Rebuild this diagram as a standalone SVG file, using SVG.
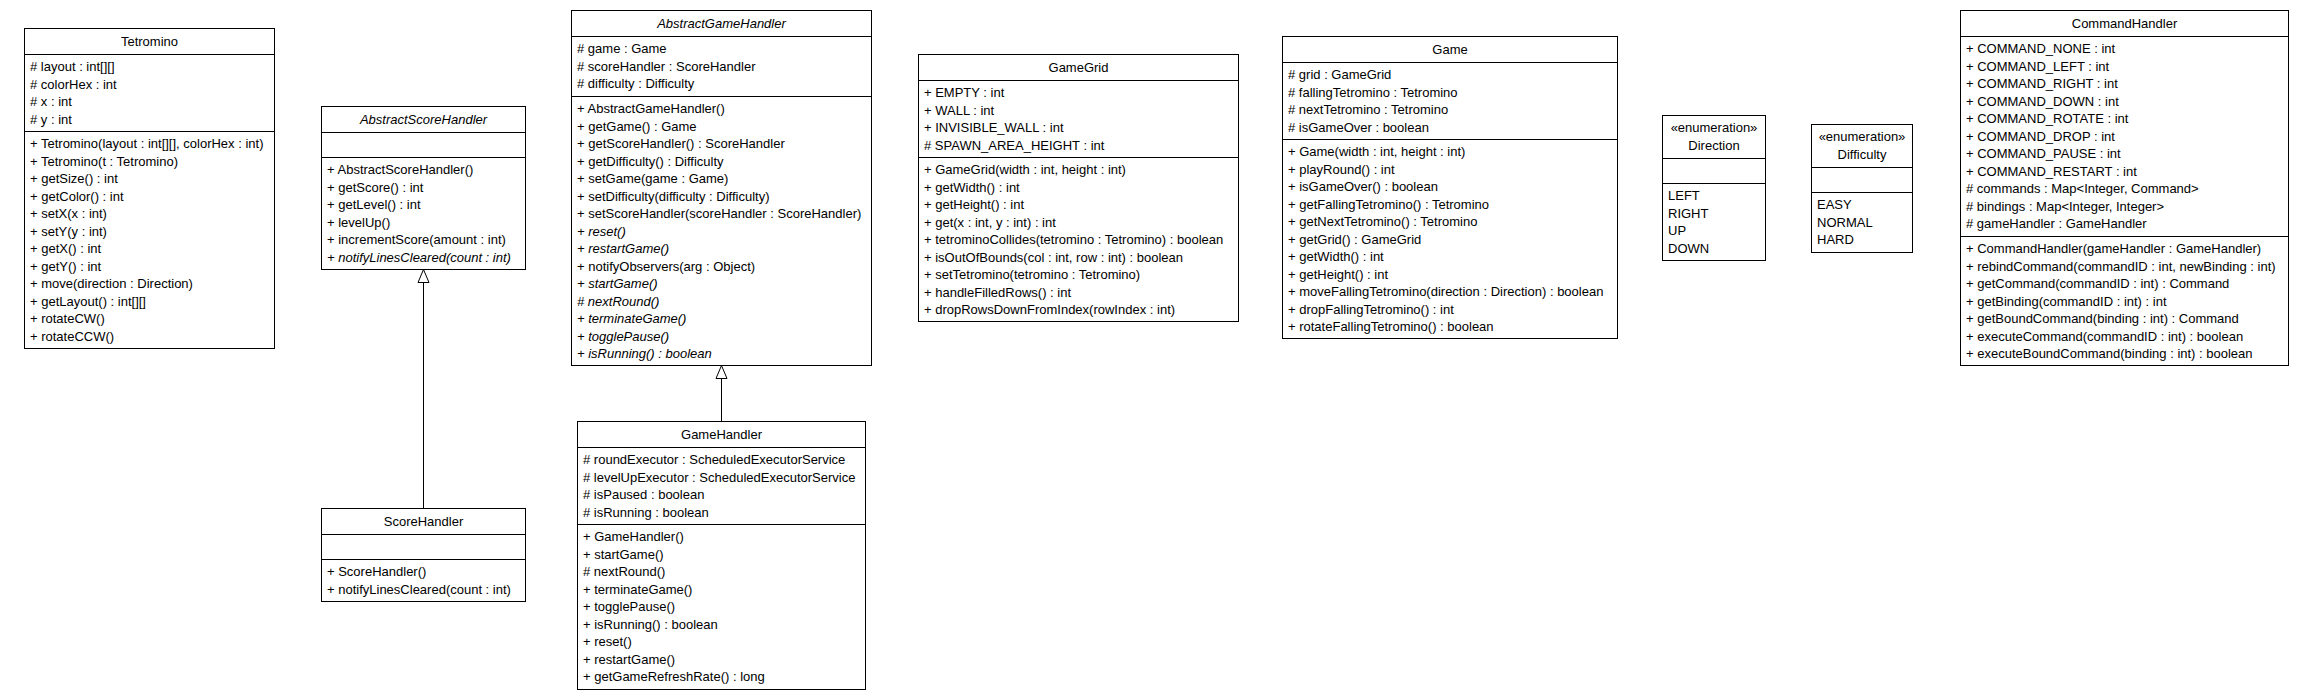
<svg xmlns="http://www.w3.org/2000/svg" width="2304" height="700" viewBox="0 0 2304 700">
<style>
.box{fill:#fff;stroke:#000;stroke-width:1}
.sep{stroke:#000;stroke-width:1}
.t{font-family:"Liberation Sans",Arial,sans-serif;font-size:13px;fill:#000}
.c{text-anchor:middle}
.i{font-style:italic}
.con{stroke:#000;stroke-width:1;fill:none}
.tri{fill:#fff;stroke:#000;stroke-width:1}
</style>
<rect x="0" y="0" width="2304" height="700" fill="#fff"/>

<g id="Tetromino">
<rect class="box" x="24.5" y="28.5" width="250" height="320"/>
<line class="sep" x1="24.5" y1="54.5" x2="274.5" y2="54.5"/>
<line class="sep" x1="24.5" y1="131.5" x2="274.5" y2="131.5"/>
<text class="t c" x="149.5" y="46">Tetromino</text>
<text class="t" x="30" y="71.25"><tspan x="30"># layout : int[][]</tspan><tspan x="30" dy="17.5"># colorHex : int</tspan><tspan x="30" dy="17.5"># x : int</tspan><tspan x="30" dy="17.5"># y : int</tspan></text>
<text class="t" x="30" y="148.25"><tspan x="30">+ Tetromino(layout : int[][], colorHex : int)</tspan><tspan x="30" dy="17.5">+ Tetromino(t : Tetromino)</tspan><tspan x="30" dy="17.5">+ getSize() : int</tspan><tspan x="30" dy="17.5">+ getColor() : int</tspan><tspan x="30" dy="17.5">+ setX(x : int)</tspan><tspan x="30" dy="17.5">+ setY(y : int)</tspan><tspan x="30" dy="17.5">+ getX() : int</tspan><tspan x="30" dy="17.5">+ getY() : int</tspan><tspan x="30" dy="17.5">+ move(direction : Direction)</tspan><tspan x="30" dy="17.5">+ getLayout() : int[][]</tspan><tspan x="30" dy="17.5">+ rotateCW()</tspan><tspan x="30" dy="17.5">+ rotateCCW()</tspan></text>
</g>

<g id="AbstractScoreHandler">
<rect class="box" x="321.5" y="106.5" width="204" height="163"/>
<line class="sep" x1="321.5" y1="132.5" x2="525.5" y2="132.5"/>
<line class="sep" x1="321.5" y1="157.5" x2="525.5" y2="157.5"/>
<text class="t c i" x="423.5" y="124">AbstractScoreHandler</text>
<text class="t" x="327" y="174.25"><tspan x="327">+ AbstractScoreHandler()</tspan><tspan x="327" dy="17.5">+ getScore() : int</tspan><tspan x="327" dy="17.5">+ getLevel() : int</tspan><tspan x="327" dy="17.5">+ levelUp()</tspan><tspan x="327" dy="17.5">+ incrementScore(amount : int)</tspan><tspan x="327" dy="17.5" class="i">+ notifyLinesCleared(count : int)</tspan></text>
</g>

<g id="ScoreHandler">
<rect class="box" x="321.5" y="508.5" width="204" height="93"/>
<line class="sep" x1="321.5" y1="534.5" x2="525.5" y2="534.5"/>
<line class="sep" x1="321.5" y1="559.5" x2="525.5" y2="559.5"/>
<text class="t c" x="423.5" y="526">ScoreHandler</text>
<text class="t" x="327" y="576.25"><tspan x="327">+ ScoreHandler()</tspan><tspan x="327" dy="17.5">+ notifyLinesCleared(count : int)</tspan></text>
</g>

<g id="AbstractGameHandler">
<rect class="box" x="571.5" y="10.5" width="300" height="355"/>
<line class="sep" x1="571.5" y1="36.5" x2="871.5" y2="36.5"/>
<line class="sep" x1="571.5" y1="96.5" x2="871.5" y2="96.5"/>
<text class="t c i" x="721.5" y="28">AbstractGameHandler</text>
<text class="t" x="577" y="53.25"><tspan x="577"># game : Game</tspan><tspan x="577" dy="17.5"># scoreHandler : ScoreHandler</tspan><tspan x="577" dy="17.5"># difficulty : Difficulty</tspan></text>
<text class="t" x="577" y="113.25"><tspan x="577">+ AbstractGameHandler()</tspan><tspan x="577" dy="17.5">+ getGame() : Game</tspan><tspan x="577" dy="17.5">+ getScoreHandler() : ScoreHandler</tspan><tspan x="577" dy="17.5">+ getDifficulty() : Difficulty</tspan><tspan x="577" dy="17.5">+ setGame(game : Game)</tspan><tspan x="577" dy="17.5">+ setDifficulty(difficulty : Difficulty)</tspan><tspan x="577" dy="17.5">+ setScoreHandler(scoreHandler : ScoreHandler)</tspan><tspan x="577" dy="17.5" class="i">+ reset()</tspan><tspan x="577" dy="17.5" class="i">+ restartGame()</tspan><tspan x="577" dy="17.5">+ notifyObservers(arg : Object)</tspan><tspan x="577" dy="17.5" class="i">+ startGame()</tspan><tspan x="577" dy="17.5" class="i"># nextRound()</tspan><tspan x="577" dy="17.5" class="i">+ terminateGame()</tspan><tspan x="577" dy="17.5" class="i">+ togglePause()</tspan><tspan x="577" dy="17.5" class="i">+ isRunning() : boolean</tspan></text>
</g>

<g id="GameHandler">
<rect class="box" x="577.5" y="421.5" width="288" height="268"/>
<line class="sep" x1="577.5" y1="447.5" x2="865.5" y2="447.5"/>
<line class="sep" x1="577.5" y1="524.5" x2="865.5" y2="524.5"/>
<text class="t c" x="721.5" y="439">GameHandler</text>
<text class="t" x="583" y="464.25"><tspan x="583"># roundExecutor : ScheduledExecutorService</tspan><tspan x="583" dy="17.5"># levelUpExecutor : ScheduledExecutorService</tspan><tspan x="583" dy="17.5"># isPaused : boolean</tspan><tspan x="583" dy="17.5"># isRunning : boolean</tspan></text>
<text class="t" x="583" y="541.25"><tspan x="583">+ GameHandler()</tspan><tspan x="583" dy="17.5">+ startGame()</tspan><tspan x="583" dy="17.5"># nextRound()</tspan><tspan x="583" dy="17.5">+ terminateGame()</tspan><tspan x="583" dy="17.5">+ togglePause()</tspan><tspan x="583" dy="17.5">+ isRunning() : boolean</tspan><tspan x="583" dy="17.5">+ reset()</tspan><tspan x="583" dy="17.5">+ restartGame()</tspan><tspan x="583" dy="17.5">+ getGameRefreshRate() : long</tspan></text>
</g>

<g id="GameGrid">
<rect class="box" x="918.5" y="54.5" width="320" height="267"/>
<line class="sep" x1="918.5" y1="80.5" x2="1238.5" y2="80.5"/>
<line class="sep" x1="918.5" y1="157.5" x2="1238.5" y2="157.5"/>
<text class="t c" x="1078.5" y="72">GameGrid</text>
<text class="t" x="924" y="97.25"><tspan x="924">+ EMPTY : int</tspan><tspan x="924" dy="17.5">+ WALL : int</tspan><tspan x="924" dy="17.5">+ INVISIBLE_WALL : int</tspan><tspan x="924" dy="17.5"># SPAWN_AREA_HEIGHT : int</tspan></text>
<text class="t" x="924" y="174.25"><tspan x="924">+ GameGrid(width : int, height : int)</tspan><tspan x="924" dy="17.5">+ getWidth() : int</tspan><tspan x="924" dy="17.5">+ getHeight() : int</tspan><tspan x="924" dy="17.5">+ get(x : int, y : int) : int</tspan><tspan x="924" dy="17.5">+ tetrominoCollides(tetromino : Tetromino) : boolean</tspan><tspan x="924" dy="17.5">+ isOutOfBounds(col : int, row : int) : boolean</tspan><tspan x="924" dy="17.5">+ setTetromino(tetromino : Tetromino)</tspan><tspan x="924" dy="17.5">+ handleFilledRows() : int</tspan><tspan x="924" dy="17.5">+ dropRowsDownFromIndex(rowIndex : int)</tspan></text>
</g>

<g id="Game">
<rect class="box" x="1282.5" y="36.5" width="335" height="302"/>
<line class="sep" x1="1282.5" y1="62.5" x2="1617.5" y2="62.5"/>
<line class="sep" x1="1282.5" y1="139.5" x2="1617.5" y2="139.5"/>
<text class="t c" x="1450" y="54">Game</text>
<text class="t" x="1288" y="79.25"><tspan x="1288"># grid : GameGrid</tspan><tspan x="1288" dy="17.5"># fallingTetromino : Tetromino</tspan><tspan x="1288" dy="17.5"># nextTetromino : Tetromino</tspan><tspan x="1288" dy="17.5"># isGameOver : boolean</tspan></text>
<text class="t" x="1288" y="156.25"><tspan x="1288">+ Game(width : int, height : int)</tspan><tspan x="1288" dy="17.5">+ playRound() : int</tspan><tspan x="1288" dy="17.5">+ isGameOver() : boolean</tspan><tspan x="1288" dy="17.5">+ getFallingTetromino() : Tetromino</tspan><tspan x="1288" dy="17.5">+ getNextTetromino() : Tetromino</tspan><tspan x="1288" dy="17.5">+ getGrid() : GameGrid</tspan><tspan x="1288" dy="17.5">+ getWidth() : int</tspan><tspan x="1288" dy="17.5">+ getHeight() : int</tspan><tspan x="1288" dy="17.5">+ moveFallingTetromino(direction : Direction) : boolean</tspan><tspan x="1288" dy="17.5">+ dropFallingTetromino() : int</tspan><tspan x="1288" dy="17.5">+ rotateFallingTetromino() : boolean</tspan></text>
</g>

<g id="Direction">
<rect class="box" x="1662.5" y="115.5" width="103" height="145"/>
<line class="sep" x1="1662.5" y1="158.5" x2="1765.5" y2="158.5"/>
<line class="sep" x1="1662.5" y1="183.5" x2="1765.5" y2="183.5"/>
<text class="t c" x="1714" y="132.25"><tspan x="1714">«enumeration»</tspan><tspan x="1714" dy="17.5">Direction</tspan></text>
<text class="t" x="1668" y="200.25"><tspan x="1668">LEFT</tspan><tspan x="1668" dy="17.5">RIGHT</tspan><tspan x="1668" dy="17.5">UP</tspan><tspan x="1668" dy="17.5">DOWN</tspan></text>
</g>

<g id="Difficulty">
<rect class="box" x="1811.5" y="124.5" width="101" height="128"/>
<line class="sep" x1="1811.5" y1="167.5" x2="1912.5" y2="167.5"/>
<line class="sep" x1="1811.5" y1="192.5" x2="1912.5" y2="192.5"/>
<text class="t c" x="1862" y="141.25"><tspan x="1862">«enumeration»</tspan><tspan x="1862" dy="17.5">Difficulty</tspan></text>
<text class="t" x="1817" y="209.25"><tspan x="1817">EASY</tspan><tspan x="1817" dy="17.5">NORMAL</tspan><tspan x="1817" dy="17.5">HARD</tspan></text>
</g>

<g id="CommandHandler">
<rect class="box" x="1960.5" y="10.5" width="328" height="355"/>
<line class="sep" x1="1960.5" y1="36.5" x2="2288.5" y2="36.5"/>
<line class="sep" x1="1960.5" y1="236.5" x2="2288.5" y2="236.5"/>
<text class="t c" x="2124.5" y="28">CommandHandler</text>
<text class="t" x="1966" y="53.25"><tspan x="1966">+ COMMAND_NONE : int</tspan><tspan x="1966" dy="17.5">+ COMMAND_LEFT : int</tspan><tspan x="1966" dy="17.5">+ COMMAND_RIGHT : int</tspan><tspan x="1966" dy="17.5">+ COMMAND_DOWN : int</tspan><tspan x="1966" dy="17.5">+ COMMAND_ROTATE : int</tspan><tspan x="1966" dy="17.5">+ COMMAND_DROP : int</tspan><tspan x="1966" dy="17.5">+ COMMAND_PAUSE : int</tspan><tspan x="1966" dy="17.5">+ COMMAND_RESTART : int</tspan><tspan x="1966" dy="17.5"># commands : Map&lt;Integer, Command&gt;</tspan><tspan x="1966" dy="17.5"># bindings : Map&lt;Integer, Integer&gt;</tspan><tspan x="1966" dy="17.5"># gameHandler : GameHandler</tspan></text>
<text class="t" x="1966" y="253.25"><tspan x="1966">+ CommandHandler(gameHandler : GameHandler)</tspan><tspan x="1966" dy="17.5">+ rebindCommand(commandID : int, newBinding : int)</tspan><tspan x="1966" dy="17.5">+ getCommand(commandID : int) : Command</tspan><tspan x="1966" dy="17.5">+ getBinding(commandID : int) : int</tspan><tspan x="1966" dy="17.5">+ getBoundCommand(binding : int) : Command</tspan><tspan x="1966" dy="17.5">+ executeCommand(commandID : int) : boolean</tspan><tspan x="1966" dy="17.5">+ executeBoundCommand(binding : int) : boolean</tspan></text>
</g>

<g id="connectors">
<line class="con" x1="423.5" y1="282.5" x2="423.5" y2="508.5"/>
<polygon class="tri" points="423.5,269.5 429,282.5 418,282.5"/>
<line class="con" x1="721.5" y1="378.5" x2="721.5" y2="421.5"/>
<polygon class="tri" points="721.5,365.5 727,378.5 716,378.5"/>
</g>
</svg>
